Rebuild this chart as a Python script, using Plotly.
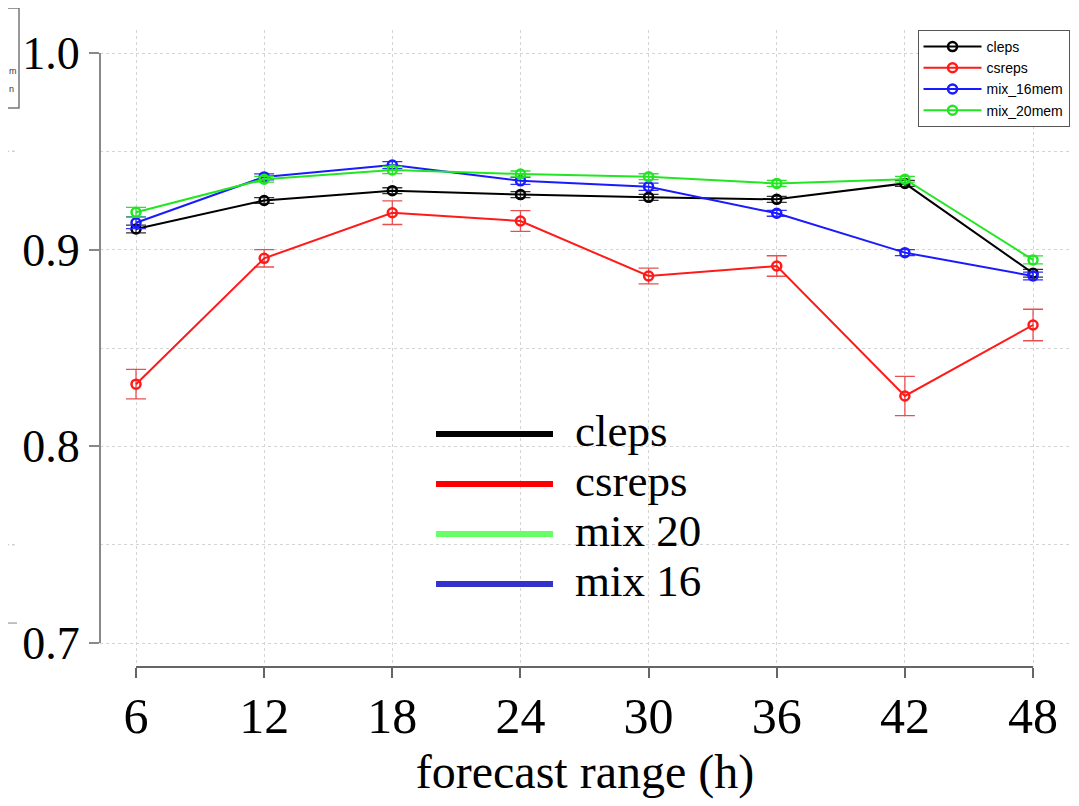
import plotly.graph_objects as go

# ---- data ----
hours = [6, 12, 18, 24, 30, 36, 42, 48]
cleps = [0.9105, 0.925, 0.930, 0.928, 0.9266, 0.9256, 0.9337, 0.888]
cleps_err = [0.002, 0.0015, 0.0015, 0.0015, 0.0015, 0.0015, 0.0015, 0.002]
csreps = [0.8316, 0.8956, 0.9188, 0.9146, 0.8866, 0.8917, 0.8256, 0.8617]
csreps_err = [0.0075, 0.0044, 0.006, 0.0053, 0.004, 0.0052, 0.010, 0.008]
mix16 = [0.9137, 0.937, 0.943, 0.935, 0.932, 0.9185, 0.8985, 0.8866]
mix16_err = [0.003, 0.0015, 0.0018, 0.0018, 0.0018, 0.0015, 0.0015, 0.002]
mix20 = [0.919, 0.9358, 0.9405, 0.9385, 0.9371, 0.9337, 0.9358, 0.8948]
mix20_err = [0.0025, 0.0015, 0.0018, 0.0015, 0.0015, 0.0015, 0.0015, 0.002]

series_names = ["cleps", "csreps", "mix_16mem", "mix_20mem"]
series_vals = [cleps, csreps, mix16, mix20]
series_errs = [cleps_err, csreps_err, mix16_err, mix20_err]
series_colors = ["#000000", "#ff1a1a", "#1a1aff", "#22e622"]
err_colors = ["#333333", "#e85050", "#3030ff", "#30e030"]

big_legend_labels = ["cleps", "csreps", "mix 20", "mix 16"]
big_legend_colors = ["#000000", "#ff0000", "#66ff66", "#3333cc"]

y_ticks = [0.7, 0.8, 0.9, 1.0]
y_ticktext = ["0.7", "0.8", "0.9", "1.0"]
x_title = "forecast range (h)"

SERIF = "Liberation Serif, Times New Roman, serif"
SANS = "Liberation Sans, Arial, sans-serif"

fig = go.Figure()
for name, vals, errs, col, ecol in zip(series_names, series_vals, series_errs,
                                       series_colors, err_colors):
    fig.add_trace(go.Scatter(
        x=hours, y=vals, name=name, mode="lines+markers",
        line=dict(color=col, width=2),
        marker=dict(symbol="circle-open", size=9, color=col, line=dict(width=2.5, color=col)),
        error_y=dict(type="data", array=errs, visible=True, color=ecol,
                     thickness=1.3, width=10),
    ))

grid_col = "#d4d4d4"
# page body has an 8px margin: figure is 1071x798 placed at (8,8)
fig.update_layout(
    width=1071, height=798,
    margin=dict(l=92, r=9, t=22, b=139),
    paper_bgcolor="white", plot_bgcolor="white",
    showlegend=True,
    legend=dict(
        x=0.9995, y=1.0, xanchor="right", yanchor="top",
        bgcolor="white", bordercolor="#555555", borderwidth=1,
        font=dict(family=SANS, size=14, color="#000"),
        tracegroupgap=0, itemwidth=58,
    ),
    xaxis=dict(
        range=[4.314, 49.73], tickvals=hours, ticktext=[str(h) for h in hours],
        showline=False, zeroline=False, automargin=False,
        showgrid=True, gridcolor=grid_col, griddash="dot", gridwidth=1,
        ticks="outside", ticklen=10, tickwidth=2, tickcolor="#666666",
        ticklabelstandoff=-5,
        tickfont=dict(family=SERIF, size=50, color="#000"),
        title=dict(text=x_title, font=dict(family=SERIF, size=48, color="#000"), standoff=11),
    ),
    yaxis=dict(
        range=[0.6878, 1.0117], tickvals=y_ticks, ticktext=y_ticktext,
        showline=False, zeroline=False, automargin=False,
        showgrid=True, gridcolor=grid_col, griddash="dot", gridwidth=1,
        ticks="outside", ticklen=10, tickwidth=2, tickcolor="#888888",
        tickfont=dict(family=SERIF, size=46, color="#000"),
        minor=dict(dtick=0.05, tick0=0.7, showgrid=True, gridcolor=grid_col,
                   griddash="dot", ticks=""),
    ),
)

shapes = []
# axis lines spanning only the data extent
shapes.append(dict(type="line", xref="paper", yref="y", x0=0, x1=0,
                   y0=y_ticks[0], y1=y_ticks[-1], line=dict(color="#888888", width=2)))
shapes.append(dict(type="line", xref="x", yref="paper", x0=hours[0], x1=hours[-1],
                   y0=0, y1=0, line=dict(color="#666666", width=2)))

# big in-plot legend
leg_y = [0.3658, 0.2873, 0.2088, 0.1303]
annotations = []
for lab, col, yy in zip(big_legend_labels, big_legend_colors, leg_y):
    shapes.append(dict(type="line", xref="paper", yref="paper", x0=0.3464, x1=0.467,
                       y0=yy, y1=yy, line=dict(color=col, width=6)))
    annotations.append(dict(xref="paper", yref="paper", x=0.4876, y=yy + 0.004, text=lab,
                            showarrow=False, xanchor="left", yanchor="middle",
                            font=dict(family=SERIF, size=45, color="#000")))

# cropped remnants at left edge of the image
shapes.append(dict(type="rect", xref="paper", yref="paper", x0=-0.12, x1=-0.0835,
                   y0=0.8776, y1=1.0345, line=dict(color="#777777", width=1.5)))
for yv in [0.95, 0.75]:
    shapes.append(dict(type="line", xref="paper", yref="y", x0=-0.103, x1=-0.088,
                       y0=yv, y1=yv, line=dict(color="#cccccc", width=1.5, dash="dot")))
shapes.append(dict(type="line", xref="paper", yref="paper", x0=-0.103, x1=-0.0856,
                   y0=0.0690, y1=0.0690, line=dict(color="#999999", width=1.2)))
annotations.append(dict(xref="paper", yref="paper", x=-0.0945, y=0.936, text="m",
                        showarrow=False, xanchor="left", yanchor="middle", borderpad=0,
                        font=dict(family=SANS, size=9, color="#333")))
annotations.append(dict(xref="paper", yref="paper", x=-0.0945, y=0.908, text="n",
                        showarrow=False, xanchor="left", yanchor="middle", borderpad=0,
                        font=dict(family=SANS, size=9, color="#333")))

fig.update_layout(shapes=shapes, annotations=annotations)
fig.write_html("out.html")
